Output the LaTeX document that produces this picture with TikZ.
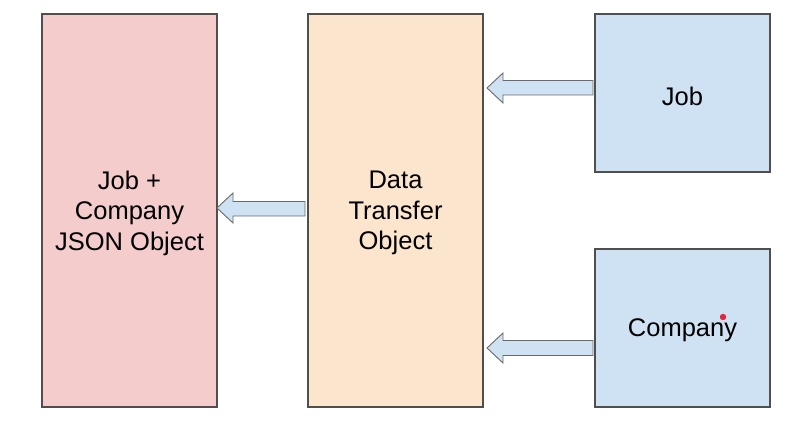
\documentclass[tikz,border=0pt]{standalone}
\usepackage{fontspec}
\setmainfont{Liberation Sans}
\begin{document}
\begin{tikzpicture}[x=1pt,y=-1pt]
\definecolor{pinkfill}{HTML}{F4CCCC}
\definecolor{orangefill}{HTML}{FCE5CD}
\definecolor{bluefill}{HTML}{CFE2F3}
\definecolor{edgegray}{HTML}{4F4F4F}
\definecolor{arrowgray}{HTML}{6A6A6A}
\definecolor{dotred}{HTML}{E8243C}
\tikzset{
  box/.style={draw=edgegray, line width=1.3pt, inner sep=0pt, outer sep=0pt},
  boxtext/.style={align=center, font=\fontsize{25.5}{30.5}\selectfont, text=black},
  blockarrow/.style={draw=arrowgray, line width=0.9pt, fill=bluefill, line join=miter}
}
\useasboundingbox (0,0) rectangle (810,430);
\fill[white] (0,0) rectangle (810,430);
% boxes
\draw[box, fill=pinkfill] (42,14) rectangle (217,407);
\draw[box, fill=orangefill] (308,14) rectangle (483,407);
\draw[box, fill=bluefill] (595,14) rectangle (770,172);
\draw[box, fill=bluefill] (595,249) rectangle (770,407);
% texts
\node[boxtext] (json) at (129.5,213) {Job +\\Company\\JSON Object};
\node[boxtext] (dto) at (395.5,213) {Data\\Transfer\\Object};
\node[boxtext] (job) at (682.5,96) {Job};
\node[boxtext] (company) at (682.5,330) {Company};
% block arrows
\draw[blockarrow] (217,208) -- (233,193) -- (233,201.5) -- (305,201.5) -- (305,216) -- (233,216) -- (233,223) -- cycle;
\draw[blockarrow] (487,88) -- (503,73) -- (503,80.5) -- (593,80.5) -- (593,95) -- (503,95) -- (503,103) -- cycle;
\draw[blockarrow] (487,348) -- (503,333) -- (503,340.5) -- (593,340.5) -- (593,355.5) -- (503,355.5) -- (503,363) -- cycle;
% cursor dot
\fill[dotred] (723,317) circle (3.2);
\end{tikzpicture}
\end{document}
